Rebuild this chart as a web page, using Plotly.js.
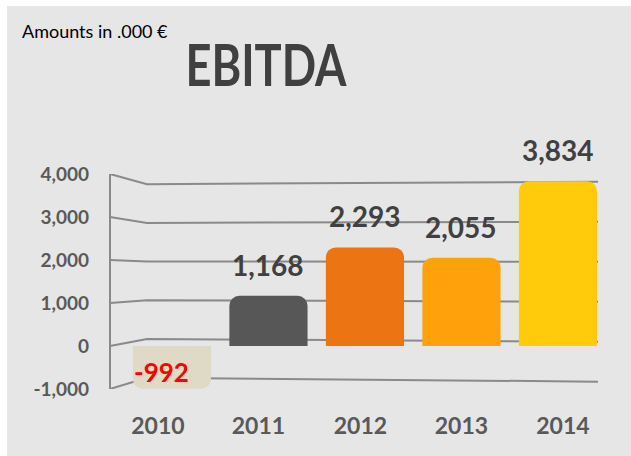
<!DOCTYPE html>
<html><head><meta charset="utf-8">
<script src="https://cdn.plot.ly/plotly-3.0.1.min.js"></script>
<style>html,body{margin:0;padding:0;background:#fff;} #chart{position:absolute;left:7px;top:6px;width:624px;height:450px;}</style>
</head><body><div id="chart"></div>
<script>
const years = ['2010', '2011', '2012', '2013', '2014'];
const ebitda = [-992, 1168, 2293, 2055, 3834];
const valueLabels = ['-992', '1,168', '2,293', '2,055', '3,834'];
const barColors = ['#dedac6', '#575757', '#ec7412', '#ffa10b', '#ffcb0b'];
const yTicks = [-1000, 0, 1000, 2000, 3000, 4000];
const yTickText = ['-1,000', '0', '1,000', '2,000', '3,000', '4,000'];

const FONT = 'Lato, "Open Sans", sans-serif';
const lineColor = '#8a8a8a';

// perspective wall lines (decoration)
const shapes = [];
const backX = 0.0758;
yTicks.forEach(v => {
  const backL = 163 + 0.9 * v;
  const backR = 101 + 0.93 * v;
  shapes.push({type: 'path', xref: 'paper', yref: 'y', layer: 'below',
    path: `M 0,${v} L ${backX},${backL} L 1,${backR}`,
    line: {color: lineColor, width: 2}});
});
shapes.push({type: 'line', xref: 'paper', yref: 'y', layer: 'below',
  x0: 0, x1: 0, y0: yTicks[0], y1: yTicks[yTicks.length - 1],
  line: {color: lineColor, width: 2}});

const annotations = ebitda.map((v, i) => ({
  x: i, y: v, xref: 'x', yref: 'y', text: valueLabels[i], showarrow: false,
  yanchor: 'middle', xanchor: 'center',
  yshift: v >= 0 ? 31 : 17, xshift: v >= 0 ? 0 : -10,
  font: {family: FONT, size: v >= 0 ? 28 : 26, color: v >= 0 ? '#404040' : '#ff0000', weight: 'bold'}
}));
annotations.push({
  xref: 'paper', yref: 'paper', x: -0.031, y: 1.665, xanchor: 'center', yanchor: 'middle',
  text: 'Amounts in .000 €', showarrow: false,
  font: {family: FONT, size: 18, color: '#000000'}
});

// perspective offsets of the year labels (in category units)
const labelOffsets = [-0.145, -0.104, -0.047, 0, 0.052];

const trace = {
  type: 'bar', x: years, y: ebitda, width: 0.81,
  marker: {color: barColors, cornerradius: 10, line: {width: 0}},
  hoverinfo: 'skip'
};

const layout = {
  width: 624, height: 450,
  margin: {l: 103, r: 33, t: 168, b: 67},
  paper_bgcolor: '#e6e6e6', plot_bgcolor: 'rgba(0,0,0,0)',
  showlegend: false,
  title: {text: 'EBITDA', xref: 'container', yref: 'container', x: 0.415, y: 0.8667,
    xanchor: 'center', yanchor: 'middle',
    font: {family: FONT, size: 58, color: '#404040', weight: 'bold'}},
  xaxis: {type: 'category', range: [-0.642, 4.415], showgrid: false, zeroline: false,
    showline: false, ticks: '', ticklabelstandoff: 21,
    tickvals: years.map((y, i) => i + labelOffsets[i]), ticktext: years,
    tickfont: {family: FONT, size: 23, color: '#595959', weight: 'bold'}},
  yaxis: {range: [-1000, 4000], tickvals: yTicks, ticktext: yTickText,
    showgrid: false, zeroline: false, showline: false, ticks: '', ticklabelstandoff: 20,
    tickfont: {family: FONT, size: 19, color: '#595959', weight: 'bold'}},
  shapes: shapes, annotations: annotations,
  bargap: 0.2
};

Plotly.newPlot('chart', [trace], layout, {displayModeBar: false, staticPlot: true}).then(gd => {
  // Calibri-like condensed look for the title
  const t = gd.querySelector('.gtitle');
  if (t) {
    const cx = parseFloat(t.getAttribute('x'));
    t.setAttribute('transform', `translate(${cx},0) scale(0.78,1) translate(${-cx},0)`);
  }
});
</script></body></html>
